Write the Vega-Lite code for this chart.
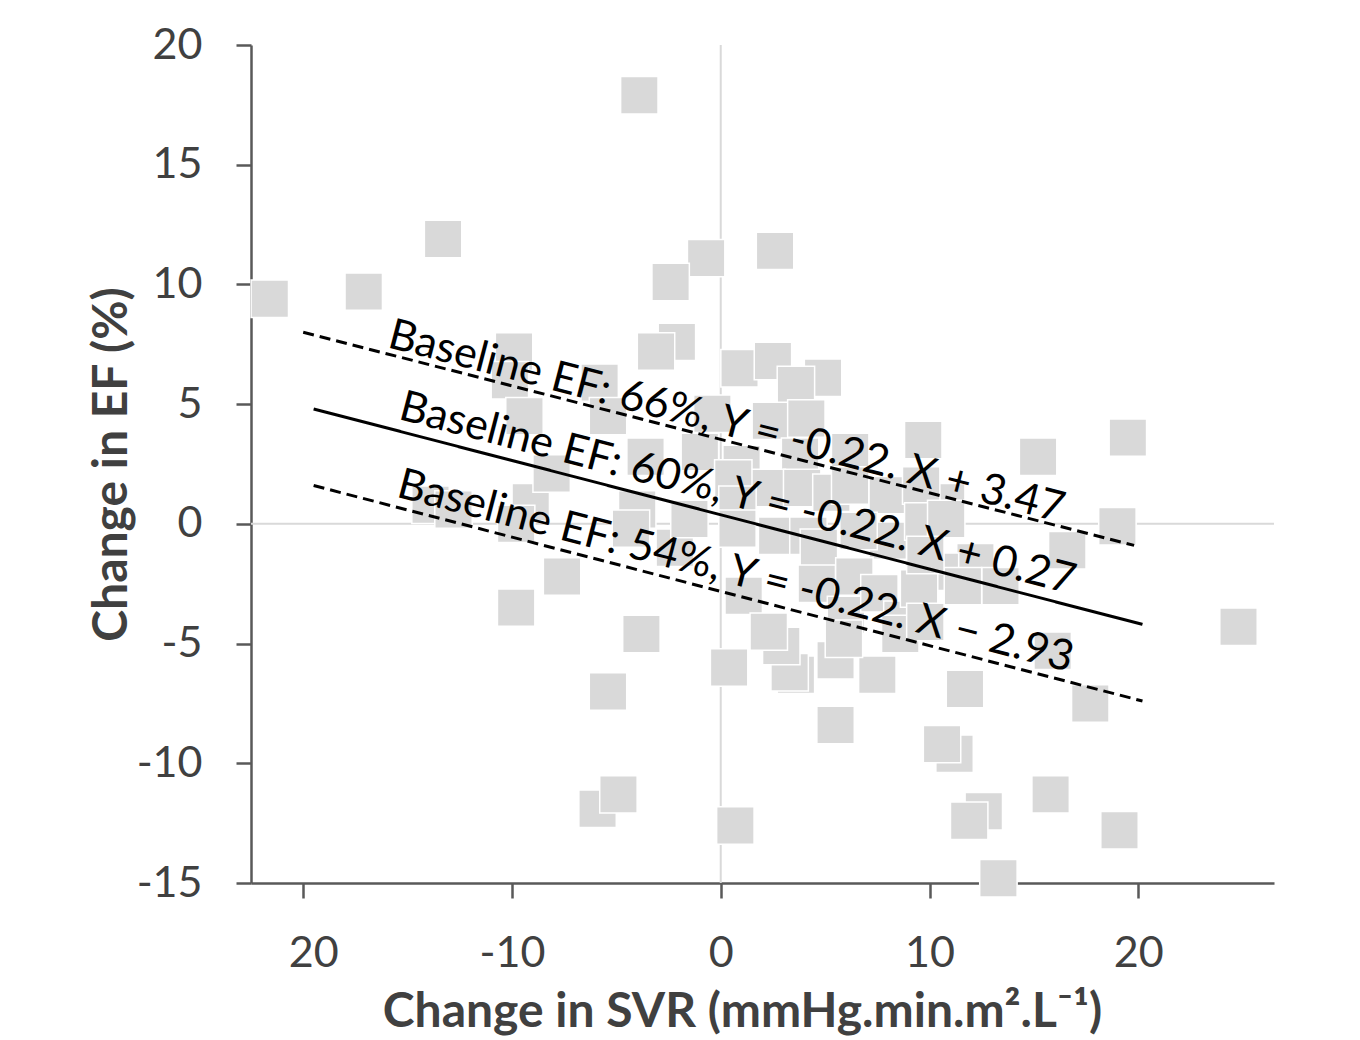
{
  "$schema": "https://vega.github.io/schema/vega-lite/v6.json",
  "autosize": {"type": "none"},
  "width": 1023,
  "height": 838,
  "padding": {"left": 251, "top": 45, "right": 86, "bottom": 157},
  "background": "white",
  "config": {
    "view": {"stroke": null},
    "axis": {
      "grid": false,
      "domainColor": "#595959",
      "domainWidth": 2.5,
      "tickColor": "#595959",
      "tickWidth": 2.5,
      "tickSize": 15,
      "labelFont": "Lato",
      "labelFontSize": 43,
      "labelColor": "#404040",
      "labelPadding": 34,
      "titleFont": "Lato",
      "titleFontWeight": "bold",
      "titleFontSize": 48,
      "titleColor": "#404040"
    }
  },
  "encoding": {
    "x": {
      "field": "x",
      "type": "quantitative",
      "scale": {"domain": [-22.5, 26.5], "nice": false, "zero": false},
      "axis": {
        "values": [-20, -10, 0, 10, 20],
        "labelExpr": "datum.value == -20 ? '20' : toString(datum.value)",
        "labelOffset": {"condition": {"test": "datum.value == -20", "value": 10}, "value": 0},
        "title": "Change in SVR (mmHg.min.m\u00b2.L\u207b\u00b9)",
        "titleX": 491,
        "titleY": 129,
        "titleAlign": "center",
        "titleBaseline": "middle",
        "labelFlush": false
      }
    },
    "y": {
      "field": "y",
      "type": "quantitative",
      "scale": {"domain": [-15, 20], "nice": false, "zero": false},
      "axis": {
        "values": [-15, -10, -5, 0, 5, 10, 15, 20],
        "labelExpr": "toString(datum.value)",
        "title": "Change in EF (%)",
        "titleX": -139,
        "titleY": 419,
        "titleAngle": -90,
        "titleAlign": "center",
        "titleBaseline": "middle",
        "labelFlush": false
      }
    }
  },
  "layer": [
    {
      "data": {"values": [
        {"x": 0, "y": -15, "x2": 0, "y2": 20},
        {"x": -22.5, "y": 0, "x2": 26.5, "y2": 0}
      ]},
      "mark": {"type": "rule", "color": "#d9d9d9", "strokeWidth": 2},
      "encoding": {"x2": {"field": "x2"}, "y2": {"field": "y2"}}
    },
    {
      "data": {"values": [
        {"x": -21.6, "y": 9.4}, {"x": -17.1, "y": 9.7}, {"x": -13.3, "y": 11.9}, {"x": -3.9, "y": 17.9},
        {"x": -0.7, "y": 11.1}, {"x": 2.6, "y": 11.4}, {"x": -2.4, "y": 10.1}, {"x": -9.9, "y": 7.2},
        {"x": -2.1, "y": 7.6}, {"x": -3.1, "y": 7.2}, {"x": 0.9, "y": 6.5}, {"x": 2.5, "y": 6.8},
        {"x": 4.9, "y": 6.1}, {"x": 3.6, "y": 5.8}, {"x": -10.1, "y": 6.0}, {"x": -9.4, "y": 4.5},
        {"x": 9.7, "y": 3.5}, {"x": 15.2, "y": 2.8}, {"x": 19.5, "y": 3.6}, {"x": 19.0, "y": -0.1},
        {"x": 16.6, "y": -1.1}, {"x": 10.8, "y": 0.9}, {"x": 15.9, "y": -5.3}, {"x": 24.8, "y": -4.3},
        {"x": 17.7, "y": -7.5}, {"x": 19.1, "y": -12.8}, {"x": 15.8, "y": -11.3}, {"x": 13.3, "y": -14.8},
        {"x": 12.6, "y": -12.0}, {"x": 11.9, "y": -12.4}, {"x": 11.2, "y": -9.6}, {"x": 10.6, "y": -9.2},
        {"x": 11.7, "y": -6.9}, {"x": 7.5, "y": -6.3}, {"x": 5.5, "y": -8.4}, {"x": 5.5, "y": -5.7},
        {"x": 3.6, "y": -6.3}, {"x": 3.3, "y": -6.2}, {"x": 2.9, "y": -5.1}, {"x": 0.4, "y": -6.0},
        {"x": 0.7, "y": -12.6}, {"x": -5.9, "y": -11.9}, {"x": -4.9, "y": -11.3}, {"x": -5.4, "y": -7.0},
        {"x": -3.8, "y": -4.6}, {"x": -9.8, "y": -3.5}, {"x": -7.6, "y": -2.2}, {"x": -13.9, "y": 0.8},
        {"x": -12.8, "y": 0.6}, {"x": -9.1, "y": 0.9}, {"x": -8.1, "y": 2.1}, {"x": -9.8, "y": 0.0},
        {"x": -5.8, "y": 5.9}, {"x": -5.4, "y": 4.5}, {"x": -3.6, "y": 2.8}, {"x": -1.0, "y": 3.0},
        {"x": 1.0, "y": 2.5}, {"x": -4.0, "y": 0.6}, {"x": -4.3, "y": -0.2}, {"x": -2.2, "y": -1.0},
        {"x": -1.5, "y": 0.2}, {"x": -0.4, "y": 4.6}, {"x": 2.4, "y": 4.3}, {"x": 4.1, "y": 4.4},
        {"x": 3.8, "y": 2.8}, {"x": 6.2, "y": 3.0}, {"x": 2.2, "y": 1.5}, {"x": 3.9, "y": 1.5},
        {"x": 5.3, "y": 1.3}, {"x": 6.2, "y": 1.6}, {"x": 8.0, "y": 1.2}, {"x": 9.6, "y": 1.6},
        {"x": 2.7, "y": -0.5}, {"x": 4.2, "y": -0.5}, {"x": 4.7, "y": -1.0}, {"x": 8.0, "y": -0.7},
        {"x": 9.7, "y": 0.1}, {"x": 10.8, "y": 0.2}, {"x": 12.2, "y": -1.6}, {"x": 13.4, "y": -2.6},
        {"x": 10.5, "y": -2.0}, {"x": 11.6, "y": -2.6}, {"x": 1.1, "y": -3.0}, {"x": 2.3, "y": -4.5},
        {"x": 4.6, "y": -2.5}, {"x": 6.0, "y": -3.8}, {"x": 6.4, "y": -2.2}, {"x": 7.6, "y": -2.9},
        {"x": 8.7, "y": -4.0}, {"x": 9.5, "y": -2.7}, {"x": 9.8, "y": -1.3}, {"x": 5.9, "y": -4.8},
        {"x": 8.6, "y": -4.6}, {"x": 9.8, "y": -4.1}, {"x": 0.6, "y": 1.9}, {"x": 0.8, "y": 0.8},
        {"x": 0.8, "y": -0.2}, {"x": 6.6, "y": -0.3}
      ]},
      "mark": {"type": "square", "filled": true, "size": 1400, "color": "#d9d9d9", "opacity": 1, "stroke": "white", "strokeWidth": 1.5}
    },
    {
      "data": {"values": [
        {"line": "66", "style": "dashed", "x": -20, "y": 8.0},
        {"line": "66", "style": "dashed", "x": 19.8, "y": -0.9},
        {"line": "60", "style": "solid", "x": -19.5, "y": 4.8},
        {"line": "60", "style": "solid", "x": 20.2, "y": -4.2},
        {"line": "54", "style": "dashed", "x": -19.5, "y": 1.6},
        {"line": "54", "style": "dashed", "x": 20.2, "y": -7.4}
      ]},
      "mark": {"type": "line", "color": "black", "strokeWidth": 3},
      "encoding": {
        "detail": {"field": "line"},
        "strokeDash": {"field": "style", "type": "nominal", "scale": {"domain": ["dashed", "solid"], "range": [[11, 6], [1, 0]]}, "legend": null}
      }
    },
    {
      "data": {"values": [
        {"x": 0.27, "y": 4.25, "label": "Baseline EF: 66%, Y = -0.22. X + 3.47"},
        {"x": 0.8, "y": 1.25, "label": "Baseline EF: 60%, Y = -0.22. X + 0.27"},
        {"x": 0.7, "y": -2.0, "label": "Baseline EF: 54%, Y = -0.22. X \u2212 2.93"}
      ]},
      "mark": {"type": "text", "font": "Lato", "fontSize": 43, "color": "black", "angle": 14.6, "align": "center", "baseline": "middle"},
      "encoding": {"text": {"field": "label"}}
    }
  ]
}
